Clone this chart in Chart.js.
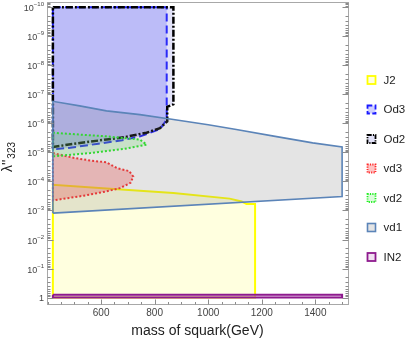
<!DOCTYPE html>
<html><head><meta charset="utf-8">
<script src="https://cdn.jsdelivr.net/npm/chart.js@4.4.0/dist/chart.umd.min.js"></script>
<style>html,body{margin:0;padding:0;background:#fff;}#wrap{width:415px;height:339px;}</style>
</head><body><div id="wrap"><canvas id="c" width="415" height="339"></canvas></div>
<script>
// ---- data ----
const massTicks = [600, 800, 1000, 1200, 1400];
const decadeExponents = [-10, -9, -8, -7, -6, -5, -4, -3, -2, -1, 0];
const seriesNames = ['J2', 'Od3', 'Od2', 'vd3', 'vd2', 'vd1', 'IN2'];

const j2Mass   = [420, 420, 620, 870, 1080, 1125, 1143, 1175, 1175, 420];
const j2Lambda = [1, 1.3e-4, 1.75e-4, 2.5e-4, 3.9e-4, 4.9e-4, 6.0e-4, 6.0e-4, 1, 1];

const od3Mass   = [420, 845, 845, 820, 746, 679, 590, 485, 420, 420];
const od3Lambda = [1e-10, 1e-10, 7.4e-7, 1.58e-6, 2.8e-6, 3.8e-6, 5.0e-6, 6.9e-6, 7.9e-6, 1e-10];

const od2Mass   = [420, 870, 870, 847, 847, 820, 770, 685, 620, 500, 420, 420];
const od2Lambda = [1e-10, 1e-10, 2.2e-7, 2.7e-7, 8.5e-7, 1.45e-6, 2.1e-6, 3.0e-6, 3.6e-6, 5.0e-6, 6.5e-6, 1e-10];

const vd3Mass   = [420, 500, 560, 620, 660, 705, 720, 710, 670, 620, 535, 420, 420];
const vd3Lambda = [1.05e-5, 1.55e-5, 1.9e-5, 2.2e-5, 3.5e-5, 4.4e-5, 6.8e-5, 1.12e-4, 1.7e-4, 2.2e-4, 3.1e-4, 4.5e-4, 1.05e-5];

const vd2Mass   = [420, 620, 745, 770, 685, 560, 420, 420];
const vd2Lambda = [2.1e-6, 2.8e-6, 3.6e-6, 5.4e-6, 7.6e-6, 1.05e-5, 1.37e-5, 2.1e-6];

const vd1Mass   = [420, 420, 520, 620, 745, 870, 1000, 1105, 1250, 1390, 1500, 1500, 420];
const vd1Lambda = [1.23e-3, 1.74e-7, 2.5e-7, 3.7e-7, 5.0e-7, 7.4e-7, 1.12e-6, 1.62e-6, 2.8e-6, 4.7e-6, 6.5e-6, 3.3e-4, 1.23e-3];

const in2Mass   = [420, 1500, 1500, 420, 420];
const in2Lambda = [0.8, 0.8, 1.0, 1.0, 0.8];

// ---- styles ----
const FONT = "'Liberation Sans', Arial, Helvetica, sans-serif";
const styles = {
  J2:  {border: '#ffff00', fill: 'rgba(255,255,150,0.3)', width: 2,   dash: []},
  Od3: {border: '#1a1aff', fill: 'rgba(70,70,255,0.26)',  width: 2,   dash: [8, 4]},
  Od2: {border: '#000000', fill: 'rgba(110,110,220,0.2)', width: 2.5, dash: [7, 2, 2, 2]},
  vd3: {border: '#ff2a2a', fill: 'rgba(255,90,90,0.35)',  width: 2,   dash: [2, 2]},
  vd2: {border: '#22ee22', fill: 'rgba(90,235,90,0.22)',  width: 2,   dash: [2, 2]},
  vd1: {border: '#5b84b8', fill: 'rgba(120,120,120,0.2)', width: 1.6, dash: []},
  IN2: {border: '#8e1a8e', fill: 'rgba(215,170,215,0.35)',width: 2,   dash: []}
};
const seriesData = {
  J2: [j2Mass, j2Lambda], Od3: [od3Mass, od3Lambda], Od2: [od2Mass, od2Lambda],
  vd3: [vd3Mass, vd3Lambda], vd2: [vd2Mass, vd2Lambda], vd1: [vd1Mass, vd1Lambda],
  IN2: [in2Mass, in2Lambda]
};

const datasets = seriesNames.map((name, i) => {
  const [xs, ys] = seriesData[name];
  const s = styles[name];
  return {
    label: name,
    data: xs.map((x, k) => ({x: x, y: ys[k]})),
    borderColor: s.border,
    backgroundColor: s.fill,
    borderWidth: s.width,
    borderDash: s.dash,
    borderJoinStyle: 'miter',
    fill: 'shape',
    tension: 0,
    pointRadius: 0,
    pointHoverRadius: 0,
    order: seriesNames.length - i
  };
});

const supMap = {'-': '\u2212'};
function expText(e) { return String(e).split('').map(c => supMap[c] || c).join(''); }

const decorPlugin = {
  id: 'decor',
  afterDraw(chart) {
    const {ctx, chartArea: a, scales: {x, y}} = chart;
    ctx.save();
    // frame
    ctx.strokeStyle = '#a8a8a8';
    ctx.lineWidth = 1;
    ctx.setLineDash([]);
    const L = Math.round(a.left) + 0.5, T = Math.round(a.top) + 0.5;
    const R = Math.round(a.right) + 0.5, B = Math.round(a.bottom) + 0.5;
    ctx.strokeRect(L, T, R - L, B - T);
    // ticks
    ctx.strokeStyle = '#8c8c8c';
    ctx.beginPath();
    for (let v = 400; v <= 1500; v += 50) {
      const px = Math.round(x.getPixelForValue(v)) + 0.5;
      const len = massTicks.includes(v) ? 5 : 2.5;
      ctx.moveTo(px, B); ctx.lineTo(px, B - len);
    }
    for (let e = -11; e <= 0; e++) {
      for (let m = 1; m <= 9; m++) {
        const v = m * Math.pow(10, e);
        if (v < y.min || v > y.max) continue;
        const py = Math.round(y.getPixelForValue(v)) + 0.5;
        const len = m === 1 ? 6 : 3;
        ctx.moveTo(L, py); ctx.lineTo(L + len, py);
        ctx.moveTo(R, py); ctx.lineTo(R - len, py);
      }
    }
    ctx.stroke();
    // y tick labels
    ctx.fillStyle = '#444';
    ctx.textBaseline = 'alphabetic';
    ctx.textAlign = 'left';
    const rightEdge = 44;
    for (const e of decadeExponents) {
      const py = y.getPixelForValue(Math.pow(10, e));
      if (e === 0) {
        ctx.font = '9px ' + FONT;
        const w = ctx.measureText('1').width;
        ctx.fillText('1', rightEdge - w, py + 3.3);
        continue;
      }
      ctx.font = '6px ' + FONT;
      const et = expText(e);
      const we = ctx.measureText(et).width;
      ctx.font = '9px ' + FONT;
      const wb = ctx.measureText('10').width;
      ctx.fillText('10', rightEdge - we - wb, py + 4);
      ctx.font = '6px ' + FONT;
      ctx.fillText(et, rightEdge - we, py - 0.8);
    }
    // y axis title
    ctx.save();
    ctx.fillStyle = '#222';
    ctx.translate(12, 172);
    ctx.rotate(-Math.PI / 2);
    ctx.font = '14px ' + FONT;
    ctx.fillText("\u03bb''", 0, 0);
    const wl = ctx.measureText("\u03bb''").width;
    ctx.font = '10px ' + FONT;
    ctx.fillText('323', wl + 1, 3);
    ctx.restore();
    // legend
    chart.data.datasets.forEach((ds, i) => {
      const cy = 80 + i * 29.5;
      const sx = 367.5, sy = cy - 4;
      ctx.setLineDash([]);
      ctx.fillStyle = '#fff';
      ctx.fillRect(sx, sy, 8, 8);
      ctx.fillStyle = ds.backgroundColor;
      ctx.fillRect(sx, sy, 8, 8);
      ctx.strokeStyle = ds.borderColor;
      ctx.lineWidth = Math.min(ds.borderWidth, 1.8);
      ctx.setLineDash(ds.borderDash.map(d => d * 0.6));
      ctx.strokeRect(sx, sy, 8, 8);
      ctx.setLineDash([]);
      ctx.fillStyle = '#222';
      ctx.font = '11.5px ' + FONT;
      ctx.textBaseline = 'middle';
      ctx.fillText(ds.label, 383.5, cy + 0.5);
    });
    ctx.restore();
  }
};

new Chart(document.getElementById('c'), {
  type: 'line',
  data: {datasets: datasets},
  plugins: [decorPlugin],
  options: {
    responsive: false,
    animation: false,
    events: [],
    layout: {padding: {left: 0, right: 67, top: 2, bottom: 0}},
    plugins: {legend: {display: false}, tooltip: {enabled: false}},
    elements: {line: {capBezierPoints: false}},
    scales: {
      x: {
        type: 'linear',
        position: 'bottom',
        min: 398, max: 1522,
        grid: {display: false, drawTicks: false},
        border: {display: false},
        afterBuildTicks: (scale) => { scale.ticks = massTicks.map(v => ({value: v})); },
        afterFit: (scale) => { scale.height = 35; },
        ticks: {font: {family: FONT, size: 10}, color: '#444', padding: 3, maxRotation: 0, autoSkip: false,
                callback: (v) => String(v)},
        title: {display: true, text: 'mass of squark(GeV)', color: '#222',
                font: {family: FONT, size: 14, lineHeight: 1.1}, padding: {top: 0, bottom: 0}}
      },
      y: {
        type: 'logarithmic',
        position: 'left',
        reverse: true,
        min: Math.pow(10, -10.18),
        max: Math.pow(10, 0.22),
        grid: {display: false, drawTicks: false},
        border: {display: false},
        afterBuildTicks: (scale) => { scale.ticks = decadeExponents.map(e => ({value: Math.pow(10, e)})); },
        afterFit: (scale) => { scale.width = 47; },
        ticks: {display: false}
      }
    }
  }
});
</script>
</body></html>
